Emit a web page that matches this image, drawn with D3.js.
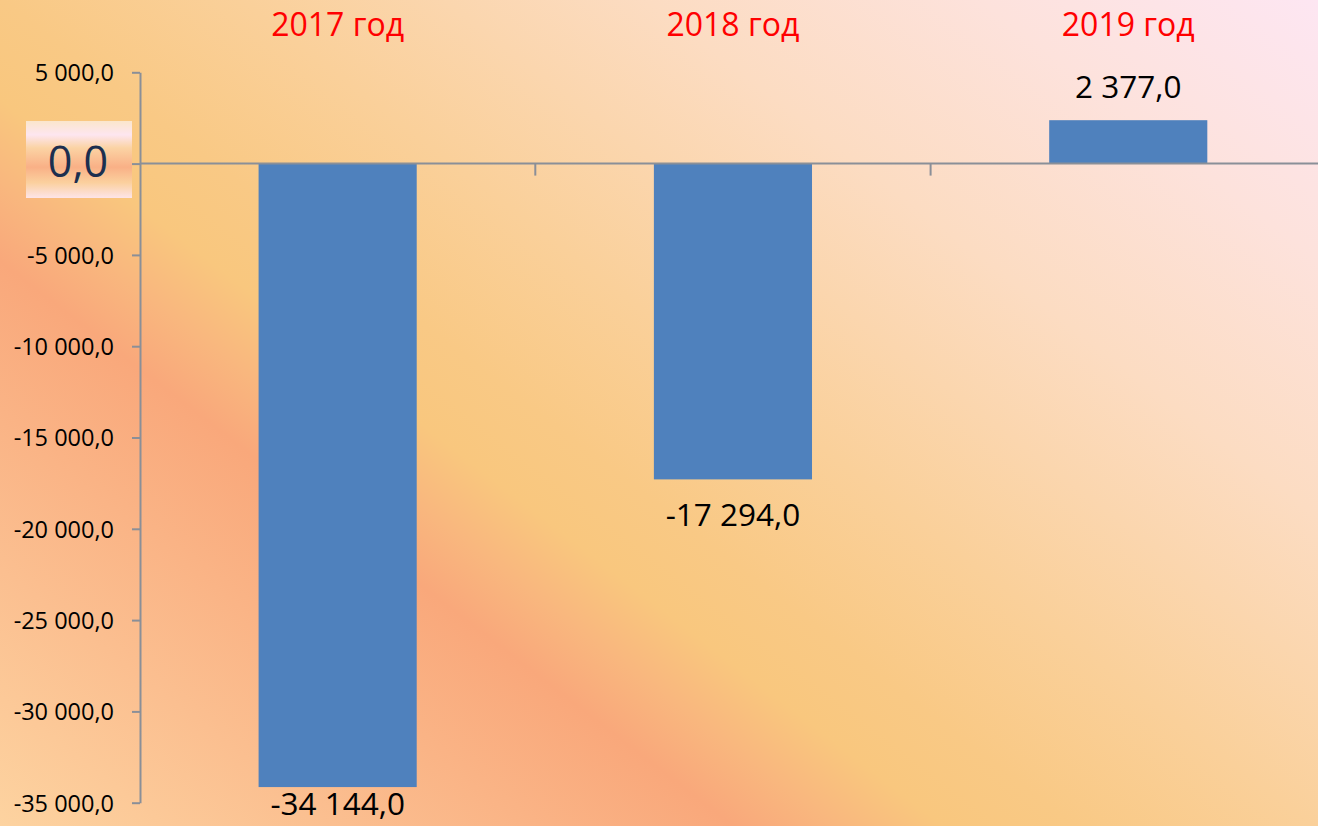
<!DOCTYPE html>
<html><head><meta charset="utf-8">
<script src="https://d3js.org/d3.v7.min.js"></script>
<style>
html,body{margin:0;padding:0;overflow:hidden;background:#fbd3a8;}
svg{display:block;}
</style></head>
<body>
<script>
// ---- data ----
const categories = ["2017 год", "2018 год", "2019 год"];
const values = [-34144.0, -17294.0, 2377.0];
const yTicks = [5000, 0, -5000, -10000, -15000, -20000, -25000, -30000, -35000];
const yDomain = [-35000, 5000];

const W = 1318, H = 826;
const svg = d3.select("body").append("svg").attr("width", W).attr("height", H);
const defs = svg.append("defs");

// background gradient
const bg = defs.append("linearGradient").attr("id", "bg")
  .attr("gradientUnits", "userSpaceOnUse")
  .attr("x1", 0).attr("y1", 826).attr("x2", 889).attr("y2", -329);
[[0, "#fdd3a0"], [0.14, "#fbbf90"], [0.307, "#f9a87b"], [0.35, "#f9b77e"], [0.395, "#f9c77e"],
 [0.45, "#f9c985"], [0.55, "#fad09a"], [0.72, "#fcdcc2"], [0.86, "#fde2dc"], [1, "#fde6f2"]]
 .forEach(([o, c]) => bg.append("stop").attr("offset", o).attr("stop-color", c));

const zg = defs.append("linearGradient").attr("id", "zeroBox")
  .attr("x1", 0).attr("y1", 0).attr("x2", 0).attr("y2", 1);
[[0, "#fbe6cc"], [0.18, "#fde6f0"], [0.35, "#fbd3a4"], [0.6, "#f9b086"], [0.8, "#fbd09e"], [1, "#fde4e8"]]
 .forEach(([o, c]) => zg.append("stop").attr("offset", o).attr("stop-color", c));

svg.append("rect").attr("width", W).attr("height", H).attr("fill", "url(#bg)");

const x0 = 140, x1 = 140 + 3 * 395.3;
const x = d3.scaleBand().domain(categories).range([x0, x1]).paddingInner(0.6).paddingOuter(0.3);
const y = d3.scaleLinear().domain(yDomain).range([802.7, 72.3]);

const locale = d3.formatLocale({decimal: ",", thousands: " ", grouping: [3], currency: ["", ""], minus: "-"});
const fmt = locale.format(",.1f");
const font = "'Open Sans', sans-serif";
const axisColor = "#8a8f98";

// bars
svg.selectAll("rect.bar").data(values).enter().append("rect")
  .attr("class", "bar")
  .attr("x", (d, i) => x(categories[i]))
  .attr("width", x.bandwidth())
  .attr("y", d => y(Math.max(0, d)))
  .attr("height", d => Math.abs(y(d) - y(0)))
  .attr("fill", "#4f81bd");

// y axis
const yAxis = d3.axisLeft(y).tickValues(yTicks).tickSize(8).tickSizeOuter(0)
  .tickFormat(d => d === 0 ? "" : fmt(d));
const gy = svg.append("g").attr("transform", `translate(${x0},0)`).call(yAxis);
gy.select(".domain").attr("stroke", axisColor).attr("stroke-width", 2);
gy.selectAll(".tick line").attr("stroke", axisColor).attr("stroke-width", 2);
gy.selectAll(".tick text").attr("x", -26).attr("font-family", font).attr("font-size", 23.5)
  .attr("fill", "#000").attr("dy", "0.36em");

// x axis at zero
const step = x.step();
const catTicks = [x0 + step, x0 + 2 * step];
svg.append("line").attr("x1", x0).attr("x2", W).attr("y1", y(0)).attr("y2", y(0))
  .attr("stroke", axisColor).attr("stroke-width", 2);
svg.selectAll("line.xt").data(catTicks).enter().append("line").attr("class", "xt")
  .attr("x1", d => d).attr("x2", d => d).attr("y1", y(0)).attr("y2", y(0) + 12)
  .attr("stroke", axisColor).attr("stroke-width", 2);

// zero label box
svg.append("rect").attr("x", 26).attr("y", 121).attr("width", 106).attr("height", 77)
  .attr("fill", "url(#zeroBox)");
svg.append("text").attr("x", 78).attr("y", y(0) + 13.5).attr("text-anchor", "middle")
  .attr("font-family", font).attr("font-size", 43).attr("fill", "#1c2f4f").text(fmt(0));

// category labels
svg.selectAll("text.cat").data(categories).enter().append("text").attr("class", "cat")
  .attr("x", d => x(d) + x.bandwidth() / 2).attr("y", 36)
  .attr("text-anchor", "middle").attr("font-family", font).attr("font-size", 32)
  .attr("fill", "#ff0000").text(d => d);

// value labels
svg.selectAll("text.val").data(values).enter().append("text").attr("class", "val")
  .attr("x", (d, i) => x(categories[i]) + x.bandwidth() / 2)
  .attr("y", d => d >= 0 ? y(d) - 22 : Math.min(y(d) + 47, 815))
  .attr("text-anchor", "middle").attr("font-family", font).attr("font-size", 31.5)
  .attr("fill", "#000").text(d => fmt(d));
</script>
</body></html>
